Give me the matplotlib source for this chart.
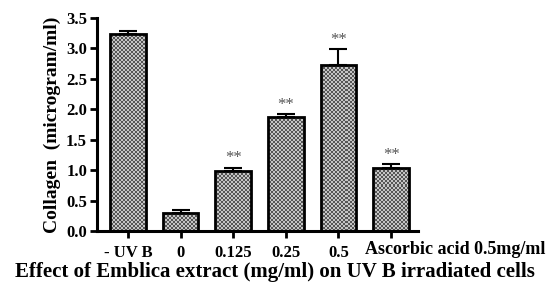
import numpy as np
import matplotlib
matplotlib.use('Agg')
import matplotlib.pyplot as plt
from matplotlib.colors import ListedColormap

categories = ['- UV B', '0', '0.125', '0.25', '0.5', 'Ascorbic acid 0.5mg/ml']
collagen = [3.23, 0.29, 0.98, 1.87, 2.72, 1.04]
sem = [0.05, 0.06, 0.06, 0.05, 0.27, 0.06]
signif = ['', '', '**', '**', '**', '**']

plt.rcParams['font.family'] = ['Liberation Serif', 'DejaVu Serif']
plt.rcParams['font.weight'] = 'bold'

fig = plt.figure(figsize=(5.5, 2.88), dpi=100)
ax = fig.add_axes([0.176, 0.198, 0.584, 0.74])

x = np.arange(len(categories))
w = 0.68
xlim = (-0.59, 5.51)
ylim = (0, 3.5)

bars = ax.bar(x, collagen, width=w, fill=False, edgecolor='black', linewidth=2, zorder=3)

# checkerboard texture clipped to each bar
ny, nx = 213, 321
jj, ii = np.meshgrid(np.arange(nx), np.arange(ny))
checker = ((ii // 2 + jj // 2) % 2).astype(float)
cmap = ListedColormap(['#555555', '#c4c4c4'])
for b in bars:
    im = ax.imshow(checker, cmap=cmap, extent=(*xlim, *ylim), aspect='auto',
                   interpolation='nearest', origin='lower', zorder=2)
    im.set_clip_path(b)

ax.errorbar(x, collagen, yerr=[np.zeros(len(sem)), sem], fmt='none', ecolor='black',
            elinewidth=1.5, capsize=6.5, capthick=1.5, zorder=4)

for xi, v, e, s in zip(x, collagen, sem, signif):
    if s:
        ax.text(xi, v + e + 0.02, s, ha='center', va='bottom', fontsize=12,
                color='#555555', fontweight='normal')

ax.set_xlim(*xlim)
ax.set_ylim(*ylim)
ax.set_yticks(np.arange(0, 3.51, 0.5))
ax.set_yticklabels([f'{t:.1f}' for t in np.arange(0, 3.51, 0.5)])
ax.set_xticks(x)
ax.set_xticklabels(categories[:-1] + [''])
# last label sits to the right of its tick in the reference
ax.text(4.5, -0.16, categories[-1], transform=ax.transData, ha='left', va='top',
        fontsize=13, fontweight='bold', clip_on=False)

for side in ['top', 'right']:
    ax.spines[side].set_visible(False)
for side in ['left', 'bottom']:
    ax.spines[side].set_linewidth(2.2)
ax.tick_params(axis='y', width=2, length=5, labelsize=12, pad=2)
ax.tick_params(axis='x', width=2, length=5, labelsize=12, pad=5)

ax.set_ylabel('Collagen  (microgram/ml)', fontsize=14, fontweight='bold')
ax.set_xlabel('Effect of Emblica extract (mg/ml) on UV B irradiated cells',
              fontsize=15, fontweight='bold')
ax.xaxis.set_label_coords(0.555, -0.145)
ax.yaxis.set_label_coords(-0.11, 0.5)

fig.savefig('out.png', dpi=100)
